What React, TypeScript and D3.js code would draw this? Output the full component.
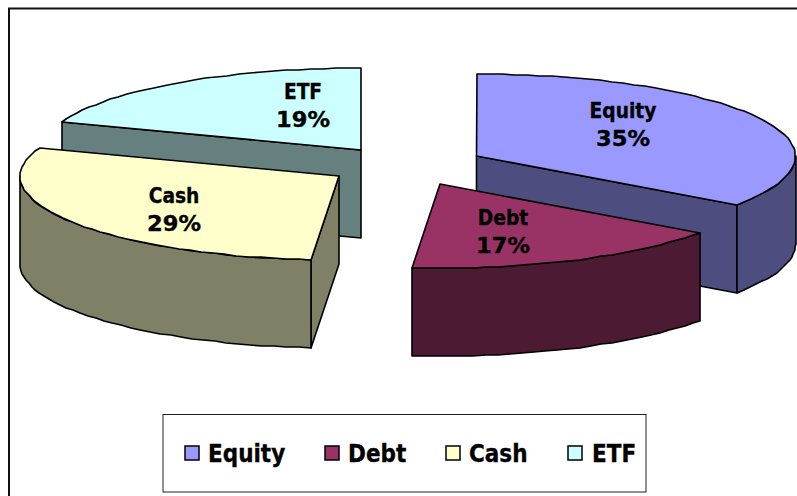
import React from "react";
import * as d3 from "d3";

const categories = ["Equity", "Debt", "Cash", "ETF"];
const shares = [34.8, 16.6, 29.2, 19.4];
const topColors = ["#9999FF", "#993366", "#FFFFCC", "#CCFFFF"];
const wallColors = ["#4D4D80", "#4D1A33", "#808066", "#668080"];

// Layout of the exploded 3-D pie
const W = 797, H = 496;
const RX = 319, RY_BACK = 82, RY_FRONT = 84, DEPTH = 88;
const apexes: [number, number][] = [[476.5, 156], [440, 184], [339, 176], [361, 150]];
const labelAt: [number, number][] = [[623, 118], [503, 225], [174, 203], [303, 99]];
const paintOrder = [3, 0, 2, 1];
const legendSwatchX = [185, 325, 446, 568];
const legendTextX = [208, 348, 469, 592];
const FONT = "'DejaVu Sans', Verdana, sans-serif";

const slices = d3.pie<number>().sort(null)(shares);
const sx = d3.scaleLinear().domain([-1, 1]).range([-RX, RX]);
const sy = d3.scaleLinear().domain([-1, 0, 1]).range([-RY_BACK, 0, RY_FRONT]);

type P = [number, number];
const rim = (i: number, a: number): P => [
  Math.round(apexes[i][0] + sx(Math.sin(a))),
  Math.round(apexes[i][1] + sy(-Math.cos(a))),
];
const arcPts = (i: number, a0: number, a1: number): P[] => {
  const n = Math.max(2, Math.ceil(Math.abs(a1 - a0) / 0.04));
  return d3.range(n + 1).map((k) => rim(i, a0 + ((a1 - a0) * k) / n));
};
const line = d3.line<P>().x((d) => d[0]).y((d) => d[1]);
const closed = (pts: P[]) => (line(pts) ?? "") + "Z";
const down = (p: P): P => [p[0], p[1] + DEPTH];

function Slice({ i }: { i: number }) {
  const { startAngle: a0, endAngle: a1 } = slices[i];
  const apex = apexes[i];
  const walls: P[][] = [];
  // radial wall: the face turned towards the viewer
  if (i === 0) {
    const e = rim(i, a1);
    walls.push([apex, e, down(e), down(apex)]);
  }
  if (i === 2 || i === 3) {
    const s = rim(i, a0);
    walls.push([apex, s, down(s), down(apex)]);
  }
  // outer rim: only the front half of the ellipse is visible
  const lo = Math.max(a0, Math.PI / 2);
  const hi = Math.min(a1, (3 * Math.PI) / 2);
  if (hi > lo) {
    const top = arcPts(i, lo, hi);
    walls.push([...top, ...top.slice().reverse().map(down)]);
  }
  const topFace = [apex, ...arcPts(i, a0, a1)];
  return (
    <g stroke="#000" strokeWidth={1.6} strokeLinejoin="round">
      {walls.map((w, k) => (
        <path key={k} d={closed(w)} fill={wallColors[i]} />
      ))}
      <path d={closed(topFace)} fill={topColors[i]} />
    </g>
  );
}

function Squeezed({ x, y, size, k, anchor, children }: any) {
  return (
    <text
      transform={`translate(${x},${y}) scale(${k},1)`}
      fontFamily={FONT}
      fontWeight="bold"
      fontSize={size}
      textAnchor={anchor}
      fill="#000"
      stroke="#000"
      strokeWidth={0.35}
    >
      {children}
    </text>
  );
}

export default function App() {
  return (
    <svg
      width={W}
      height={H}
      viewBox={`0 0 ${W} ${H}`}
      style={{ position: "absolute", left: 0, top: 0, background: "#fff" }}
    >
      <path d={`M9,${H}V8.5H${W}`} fill="none" stroke="#111" strokeWidth={2} />
      {paintOrder.map((i) => (
        <Slice key={i} i={i} />
      ))}
      {categories.map((c, i) => (
        <g key={c}>
          <Squeezed x={labelAt[i][0]} y={labelAt[i][1]} size={20.5} k={0.91} anchor="middle">
            {c}
          </Squeezed>
          <Squeezed x={labelAt[i][0]} y={labelAt[i][1] + 28} size={20.5} k={1.1} anchor="middle">
            {`${d3.format(".0f")(shares[i])}%`}
          </Squeezed>
        </g>
      ))}
      <rect x={163} y={414.5} width={483} height={77.5} fill="#fff" stroke="#222" strokeWidth={1} />
      {categories.map((c, i) => (
        <g key={c}>
          <rect
            x={legendSwatchX[i]}
            y={446}
            width={14}
            height={14}
            fill={topColors[i]}
            stroke="#000"
            strokeWidth={1.5}
          />
          <Squeezed x={legendTextX[i]} y={462} size={24.5} k={0.88} anchor="start">
            {c}
          </Squeezed>
        </g>
      ))}
    </svg>
  );
}
